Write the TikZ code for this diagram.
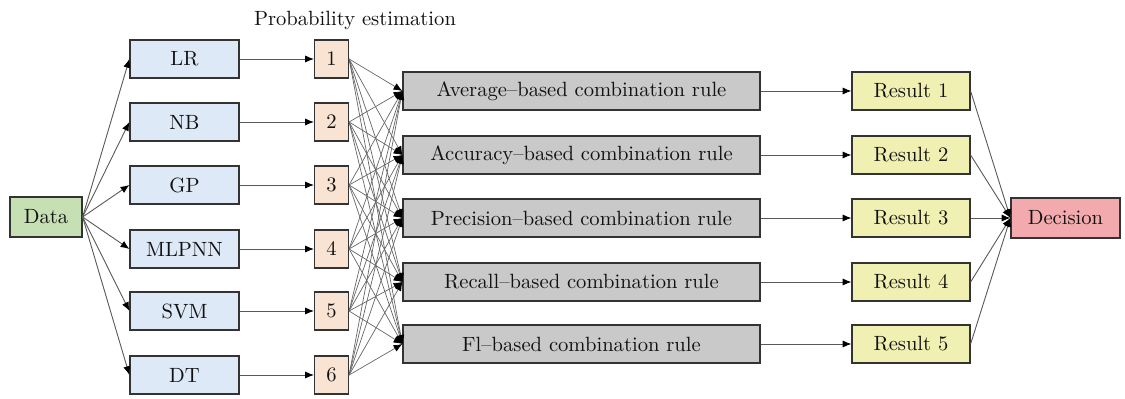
\documentclass[tikz,border=0pt]{standalone}
\usetikzlibrary{arrows.meta,positioning}
\definecolor{datagreen}{HTML}{C6E0B4}
\definecolor{clsblue}{HTML}{DDE9F6}
\definecolor{probpeach}{HTML}{F9E4D3}
\definecolor{rulegray}{HTML}{C9C9C9}
\definecolor{resyellow}{HTML}{F1F0B3}
\definecolor{decpink}{HTML}{F2AAAE}
\definecolor{ink}{HTML}{111111}
\tikzset{
  ens/.style={font=\fontsize{10.3}{12}\selectfont, text=ink,
    >={Latex[length=4.4pt,width=3.6pt,color=black]}},
  box/.style={draw=black!80,line width=.6pt,minimum height=19pt,
    inner sep=0pt,align=center},
  datab/.style={box,fill=datagreen,minimum width=36pt,minimum height=20pt},
  clsb/.style={box,fill=clsblue,minimum width=54.5pt},
  probb/.style={box,fill=probpeach,minimum width=17pt},
  ruleb/.style={box,fill=rulegray,minimum width=178.5pt},
  resb/.style={box,fill=resyellow,minimum width=59pt},
  decb/.style={box,fill=decpink,minimum width=54.5pt,minimum height=20pt},
  link/.style={->,draw=black!65,line width=.45pt},
  cross/.style={->,draw=black!60,line width=.35pt},
}
\begin{document}
\begin{tikzpicture}[ens,x=.5pt,y=-.5pt]
  % Page follows the 1125 x 399 reference.
  \path[use as bounding box] (0,0) rectangle (1125,399);

  % ---------------- input ----------------
  \node[datab] (data) at (46,217) {Data};

  % ---------------- base classifiers ----------------
  \node[clsb] (lr)    at (184.5,59)  {LR};
  \node[clsb] (nb)    at (184.5,122) {NB};
  \node[clsb] (gp)    at (184.5,185) {GP};
  \node[clsb] (mlpnn) at (184.5,249) {MLPNN};
  \node[clsb] (svm)   at (184.5,311) {SVM};
  \node[clsb] (dt)    at (184.5,375) {DT};
  \foreach \c in {lr,nb,gp,mlpnn,svm,dt}
    \draw[link] (data.east) -- (\c.west);

  % ---------------- probability estimation ----------------
  \node (probtitle) at (355,20) {Probability estimation};
  \node[probb] (p1) at (331.5,59)  {1};
  \node[probb] (p2) at (331.5,122) {2};
  \node[probb] (p3) at (331.5,185) {3};
  \node[probb] (p4) at (331.5,249) {4};
  \node[probb] (p5) at (331.5,311) {5};
  \node[probb] (p6) at (331.5,375) {6};
  \draw[link] (lr) -- (p1);
  \draw[link] (nb) -- (p2);
  \draw[link] (gp) -- (p3);
  \draw[link] (mlpnn) -- (p4);
  \draw[link] (svm) -- (p5);
  \draw[link] (dt) -- (p6);

  % ---------------- combination rules ----------------
  \node[ruleb] (avg)  at (581.5,91)  {Average--based combination rule};
  \node[ruleb] (acc)  at (581.5,155) {Accuracy--based combination rule};
  \node[ruleb] (prec) at (581.5,218) {Precision--based combination rule};
  \node[ruleb] (rec)  at (581.5,282) {Recall--based combination rule};
  \node[ruleb] (fl)   at (581.5,344) {Fl--based combination rule};
  % every estimate feeds every rule
  \foreach \p in {p1,p2,p3,p4,p5,p6}
    \foreach \r in {avg,acc,prec,rec,fl}
      \draw[cross] (\p.east) -- (\r.west);

  % ---------------- results and decision ----------------
  \node[resb] (res1) at (911,91)  {Result 1};
  \node[resb] (res2) at (911,155) {Result 2};
  \node[resb] (res3) at (911,218) {Result 3};
  \node[resb] (res4) at (911,282) {Result 4};
  \node[resb] (res5) at (911,344) {Result 5};
  \draw[link] (avg) -- (res1);
  \draw[link] (acc) -- (res2);
  \draw[link] (prec) -- (res3);
  \draw[link] (rec) -- (res4);
  \draw[link] (fl) -- (res5);

  \node[decb] (decision) at (1065.5,218) {Decision};
  \foreach \r in {res1,res2,res3,res4,res5}
    \draw[link] (\r.east) -- (decision.west);
\end{tikzpicture}
\end{document}
